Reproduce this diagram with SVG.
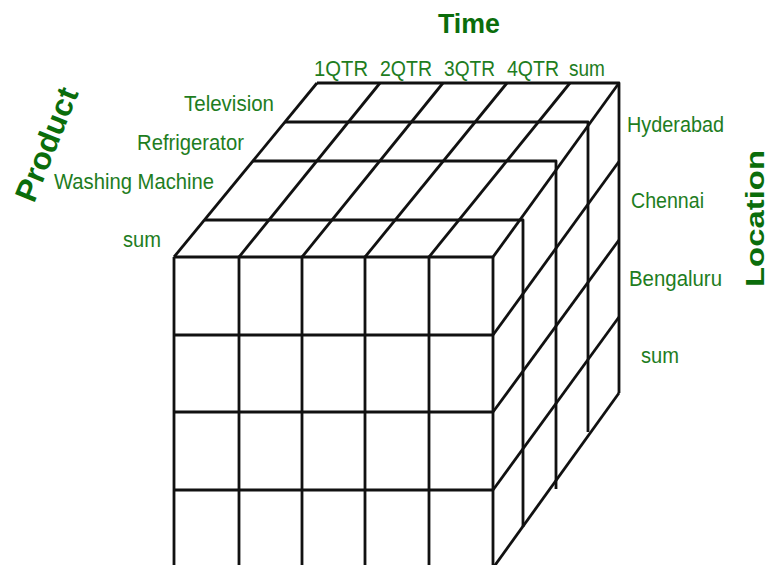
<svg xmlns="http://www.w3.org/2000/svg" width="770" height="565" viewBox="0 0 770 565">
  <style>
    .ln { fill: none; stroke: #111; stroke-width: 2.8; stroke-linejoin: round; stroke-linecap: butt; }
    .lbl { font-family: "Liberation Sans", Arial, sans-serif; font-size: 21.5px; fill: #1e7d1e; }
    .ttl { font-family: "Liberation Sans", Arial, sans-serif; font-weight: bold; fill: #0b6d0b; }
  </style>
  <rect width="770" height="565" fill="#fff"/>
  <g id="cube">
    <g id="top-face">
      <path class="ln" d="M317,83 H619 V393"/>
      <path class="ln" d="M285,122 H588 V432"/>
      <path class="ln" d="M253,161 H556 V489"/>
      <path class="ln" d="M205,220 H523 V527"/>
      <path class="ln" d="M317,83 L174,257"/>
      <path class="ln" d="M380,83 L239,257"/>
      <path class="ln" d="M443,83 L302,257"/>
      <path class="ln" d="M507,83 L365,257"/>
      <path class="ln" d="M570,83 L429,257"/>
      <path class="ln" d="M619,83 L493,257"/>
    </g>
    <g id="right-face">
      <path class="ln" d="M619,161.5 L493,335"/>
      <path class="ln" d="M619,240 L493,412"/>
      <path class="ln" d="M619,317 L493,490"/>
      <path class="ln" d="M619,393 L493,568"/>
    </g>
    <g id="front-face">
      <path class="ln" d="M174,257 H493 M174,335 H493 M174,412 H493 M174,490 H493"/>
      <path class="ln" d="M174,257 V570 M239,257 V570 M302,257 V570 M365,257 V570 M429,257 V570 M493,257 V570"/>
    </g>
  </g>
  <g id="time-axis">
    <text class="ttl" x="438" y="33" font-size="28" textLength="62" lengthAdjust="spacingAndGlyphs">Time</text>
    <text class="lbl" x="314" y="75.5" textLength="54" lengthAdjust="spacingAndGlyphs">1QTR</text>
    <text class="lbl" x="380" y="75.5" textLength="52" lengthAdjust="spacingAndGlyphs">2QTR</text>
    <text class="lbl" x="444" y="75.5" textLength="51" lengthAdjust="spacingAndGlyphs">3QTR</text>
    <text class="lbl" x="507" y="75.5" textLength="52" lengthAdjust="spacingAndGlyphs">4QTR</text>
    <text class="lbl" x="569" y="75.5" textLength="36" lengthAdjust="spacingAndGlyphs">sum</text>
  </g>
  <g id="product-axis">
    <text class="ttl" font-size="31" transform="translate(34,204) rotate(-68)" textLength="120" lengthAdjust="spacingAndGlyphs">Product</text>
    <text class="lbl" x="184" y="111" textLength="90" lengthAdjust="spacingAndGlyphs">Television</text>
    <text class="lbl" x="137" y="150" textLength="107" lengthAdjust="spacingAndGlyphs">Refrigerator</text>
    <text class="lbl" x="54" y="188.5" textLength="160" lengthAdjust="spacingAndGlyphs">Washing Machine</text>
    <text class="lbl" x="123" y="246.5" textLength="38" lengthAdjust="spacingAndGlyphs">sum</text>
  </g>
  <g id="location-axis">
    <text class="ttl" font-size="25" transform="translate(764,287) rotate(-90)" textLength="137" lengthAdjust="spacingAndGlyphs">Location</text>
    <text class="lbl" x="627" y="131.5" textLength="97" lengthAdjust="spacingAndGlyphs">Hyderabad</text>
    <text class="lbl" x="631" y="208" textLength="73" lengthAdjust="spacingAndGlyphs">Chennai</text>
    <text class="lbl" x="629" y="286" textLength="93" lengthAdjust="spacingAndGlyphs">Bengaluru</text>
    <text class="lbl" x="641" y="363" textLength="38" lengthAdjust="spacingAndGlyphs">sum</text>
  </g>
</svg>
